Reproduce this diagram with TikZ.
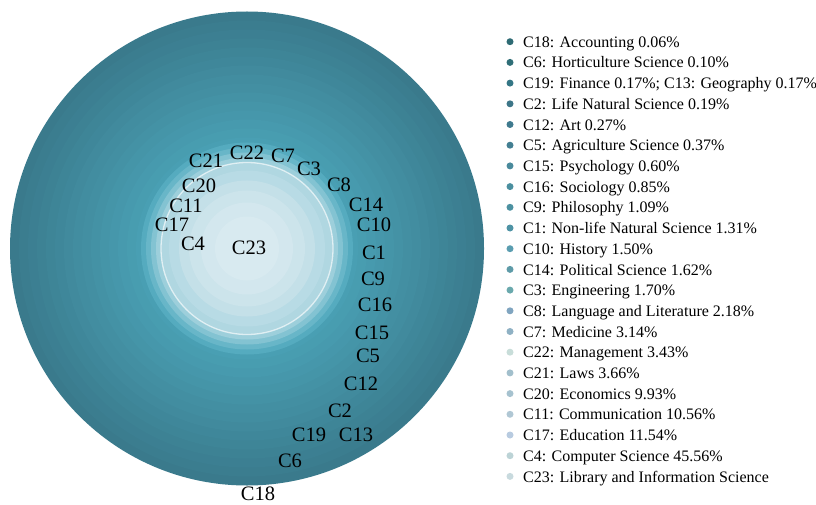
\documentclass[tikz,border=0pt]{standalone}
\usepackage{fontspec}
\setmainfont{Liberation Serif}
\definecolor{ringdark}{HTML}{3A7A8C}
\definecolor{ringmid}{HTML}{4AA2B6}
\begin{document}
\begin{tikzpicture}[x=1pt,y=-1pt,
  lab/.style={font=\fontsize{20.5}{20.5}\selectfont, inner sep=0pt},
  leg/.style={font=\fontsize{16}{16}\selectfont, anchor=base west, inner sep=0pt},
  dot/.style={circle, inner sep=0pt, minimum size=7pt}]
\useasboundingbox (0,0) rectangle (816,505);
\fill[white] (0,0) rectangle (816,505);
\coordinate (O) at (247,248.5);
% outer rings
\foreach \i in {0,...,15}{
  \pgfmathsetmacro\r{237-\i*9}
  \pgfmathsetmacro\t{100-\i*100/15}
  \fill[ringdark!\t!ringmid] (O) circle (\r);
}
% inner glow and light disc
\foreach \r/\c in {106/55ABBF, 101/68B6C8, 96/83C3D2, 91/9DCFDB, 86/B0D7E1, 78/B8DBE5, 68/C4E0E8, 58/CCE4EB, 46/D3E7EE, 32/D8EAF0}{
  \definecolor{tmpc}{HTML}{\c}
  \fill[tmpc] (O) circle (\r);
}
\draw[white, line width=1.3pt, opacity=0.65] (O) circle (86);
% circle labels
\node[lab] (c21) at (206,161) {C21};
\node[lab] (c22) at (247,153) {C22};
\node[lab] (c7)  at (283,156) {C7};
\node[lab] (c3)  at (309,169) {C3};
\node[lab] (c8)  at (339,185) {C8};
\node[lab] (c14) at (366,205) {C14};
\node[lab] (c10) at (374,225) {C10};
\node[lab] (c1)  at (374,253) {C1};
\node[lab] (c9)  at (373,279) {C9};
\node[lab] (c16) at (375,305) {C16};
\node[lab] (c15) at (372,333) {C15};
\node[lab] (c5)  at (368,356) {C5};
\node[lab] (c12) at (361,384) {C12};
\node[lab] (c2)  at (340,411) {C2};
\node[lab] (c19) at (309,435) {C19};
\node[lab] (c13) at (356,435) {C13};
\node[lab] (c6)  at (290,461) {C6};
\node[lab] (c18) at (258,494) {C18};
\node[lab] (c20) at (199,186) {C20};
\node[lab] (c11) at (186,206) {C11};
\node[lab] (c17) at (172,225) {C17};
\node[lab] (c4)  at (193,244) {C4};
\node[lab] (c23) at (249,248) {C23};
% legend
\foreach \k/\col/\txt in {
  0/2E6B74/{C18: Accounting 0.06\%},
  1/2F6E77/{C6: Horticulture Science 0.10\%},
  2/347685/{C19: Finance 0.17\%; C13: Geography 0.17\%},
  3/3D7688/{C2: Life Natural Science 0.19\%},
  4/3F7A8E/{C12: Art 0.27\%},
  5/437F92/{C5: Agriculture Science 0.37\%},
  6/4A8A9C/{C15: Psychology 0.60\%},
  7/4A8F9F/{C16: Sociology 0.85\%},
  8/4C91A1/{C9: Philosophy 1.09\%},
  9/4E93A5/{C1: Non-life Natural Science 1.31\%},
  10/5A9DB0/{C10: History 1.50\%},
  11/5E9BA8/{C14: Political Science 1.62\%},
  12/6AA9AD/{C3: Engineering 1.70\%},
  13/80A5C0/{C8: Language and Literature 2.18\%},
  14/8FB1C4/{C7: Medicine 3.14\%},
  15/C8DDD9/{C22: Management 3.43\%},
  16/A2BFCC/{C21: Laws 3.66\%},
  17/A6C2CF/{C20: Economics 9.93\%},
  18/B0C7D4/{C11: Communication 10.56\%},
  19/B8CBE0/{C17: Education 11.54\%},
  20/BCD3D6/{C4: Computer Science 45.56\%},
  21/C8DADE/{C23: Library and Information Science}}{
  \pgfmathsetmacro\yy{41.7+\k*20.7}
  \definecolor{dotc}{HTML}{\col}
  \node[dot, fill=dotc] (d\k) at (510,\yy) {};
  \node[leg] (t\k) at (523,\yy+5.6) {\txt};
}
\end{tikzpicture}
\end{document}
